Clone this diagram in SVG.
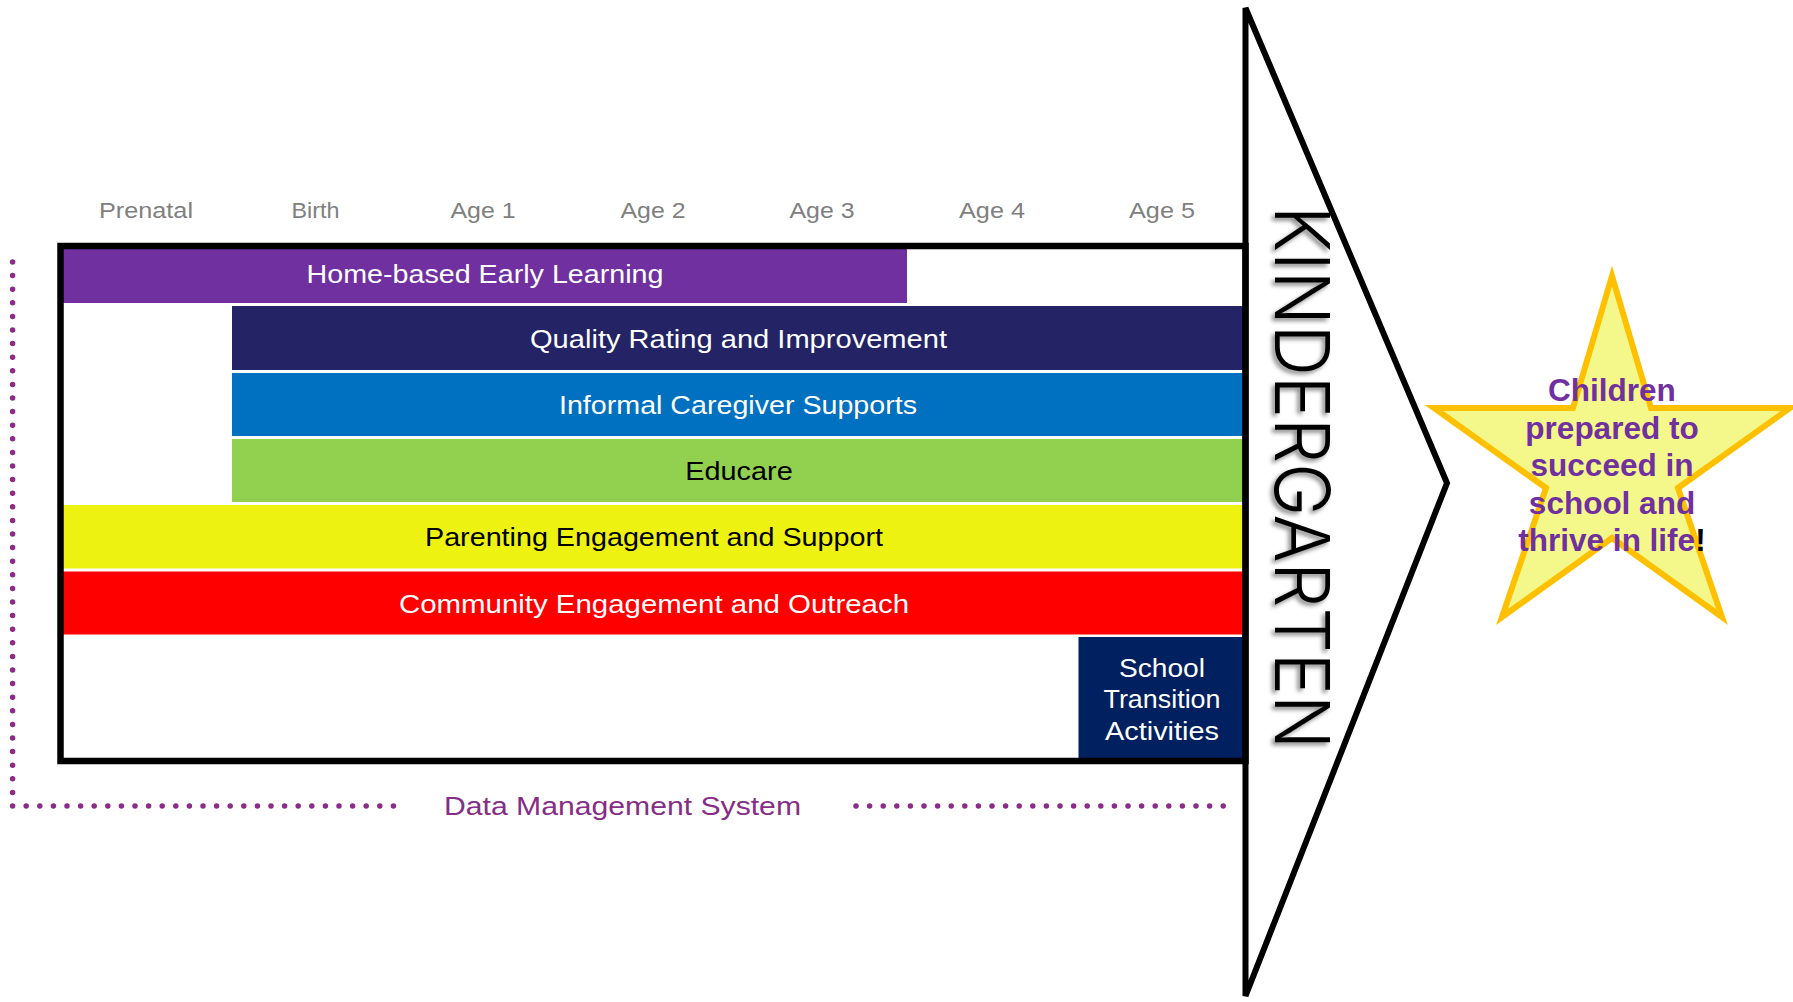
<svg xmlns="http://www.w3.org/2000/svg" width="1793" height="1002" viewBox="0 0 1793 1002">
  <defs>
    <style>
      .age { font-family: "Liberation Sans", Arial, sans-serif; font-size: 22.5px; fill: #808080; text-anchor: middle; }
      .bar { font-family: "Liberation Sans", Arial, sans-serif; font-size: 25.5px; text-anchor: middle; }
      .w { fill: #FFFFFF; }
      .k { fill: #000000; }
      .dots { fill: none; stroke: #8A2C88; stroke-width: 5.5; stroke-linecap: round; stroke-dasharray: 0 13.6; }
      .star-t { font-family: "Liberation Sans", Arial, sans-serif; font-weight: bold; font-size: 31.5px; fill: #7030A0; text-anchor: middle; }
    </style>
    <filter id="shadow" x="-20%" y="-5%" width="140%" height="110%">
      <feDropShadow dx="-3" dy="3" stdDeviation="2" flood-color="#000000" flood-opacity="0.45"/>
    </filter>
  </defs>
  <rect width="1793" height="1002" fill="#FFFFFF"/>

  <!-- age labels -->
  <g id="age-labels">
    <text class="age" x="146" y="217.5" textLength="94" lengthAdjust="spacingAndGlyphs">Prenatal</text>
    <text class="age" x="315.5" y="217.5" textLength="48" lengthAdjust="spacingAndGlyphs">Birth</text>
    <text class="age" x="483" y="217.5" textLength="65" lengthAdjust="spacingAndGlyphs">Age 1</text>
    <text class="age" x="653" y="217.5" textLength="65" lengthAdjust="spacingAndGlyphs">Age 2</text>
    <text class="age" x="822" y="217.5" textLength="65" lengthAdjust="spacingAndGlyphs">Age 3</text>
    <text class="age" x="992" y="217.5" textLength="66" lengthAdjust="spacingAndGlyphs">Age 4</text>
    <text class="age" x="1162" y="217.5" textLength="66" lengthAdjust="spacingAndGlyphs">Age 5</text>
  </g>

  <!-- data management system dotted frame -->
  <g id="data-management">
    <path class="dots" d="M12.6,262 L12.6,806 L395,806"/>
    <path class="dots" d="M856,806 L1225,806"/>
    <text x="622.5" y="815" font-family="'Liberation Sans', Arial, sans-serif" font-size="26.5" fill="#862D86" text-anchor="middle" textLength="357" lengthAdjust="spacingAndGlyphs">Data Management System</text>
  </g>

  <!-- bars -->
  <g id="home-based">
    <rect x="63" y="249" width="844" height="54" fill="#7030A0"/>
    <text class="bar w" x="485" y="283" textLength="357" lengthAdjust="spacingAndGlyphs">Home-based Early Learning</text>
  </g>
  <g id="quality-rating">
    <rect x="232" y="306" width="1011" height="64" fill="#232366"/>
    <text class="bar w" x="738.5" y="347.7" textLength="417" lengthAdjust="spacingAndGlyphs">Quality Rating and Improvement</text>
  </g>
  <g id="informal-caregiver">
    <rect x="232" y="373" width="1011" height="63" fill="#0070C0"/>
    <text class="bar w" x="738" y="413.5" textLength="358" lengthAdjust="spacingAndGlyphs">Informal Caregiver Supports</text>
  </g>
  <g id="educare">
    <rect x="232" y="439" width="1011" height="63" fill="#92D050"/>
    <text class="bar k" x="739" y="479.5" textLength="107.5" lengthAdjust="spacingAndGlyphs">Educare</text>
  </g>
  <g id="parenting">
    <rect x="63" y="505" width="1180" height="63.5" fill="#EDF211"/>
    <text class="bar k" x="654" y="545.7" textLength="458" lengthAdjust="spacingAndGlyphs">Parenting Engagement and Support</text>
  </g>
  <g id="community">
    <rect x="63" y="571.5" width="1180" height="63" fill="#FF0000"/>
    <text class="bar w" x="654" y="612.5" textLength="510" lengthAdjust="spacingAndGlyphs">Community Engagement and Outreach</text>
  </g>
  <g id="school-transition">
    <rect x="1078.5" y="637" width="164.5" height="122" fill="#002060"/>
    <text class="bar w" x="1162" y="676.7" font-size="24.5" textLength="86" lengthAdjust="spacingAndGlyphs">School</text>
    <text class="bar w" x="1162" y="708.3" font-size="24.5" textLength="117" lengthAdjust="spacingAndGlyphs">Transition</text>
    <text class="bar w" x="1162" y="740" font-size="24.5" textLength="114" lengthAdjust="spacingAndGlyphs">Activities</text>
  </g>

  <!-- timeline frame -->
  <g id="timeline-frame">
    <rect x="60.5" y="246" width="1185" height="515" fill="none" stroke="#000000" stroke-width="6.5"/>
  </g>

  <!-- kindergarten arrow -->
  <g id="kindergarten">
    <polygon points="1245.5,8 1447,483 1245.5,996" fill="none" stroke="#000000" stroke-width="6"/>
    <g filter="url(#shadow)">
      <text transform="translate(1275,206) rotate(90)" x="0" y="0" font-family="Inter, 'Liberation Sans', Arial, sans-serif" font-weight="300" font-size="76" fill="#000000" textLength="543" lengthAdjust="spacingAndGlyphs">KINDERGARTEN</text>
    </g>
  </g>

  <!-- star -->
  <g id="star">
    <polygon points="1612,276 1651,408 1790,408 1678,488 1722,617 1612,538 1502,617 1546,488 1434,408 1573,408" fill="#F4F78A" stroke="#FFC000" stroke-width="6" stroke-linejoin="miter"/>
    <text class="star-t" x="1612" y="401">Children</text>
    <text class="star-t" x="1612" y="438.5">prepared to</text>
    <text class="star-t" x="1612" y="476">succeed in</text>
    <text class="star-t" x="1612" y="513.5">school and</text>
    <text class="star-t" x="1612" y="551">thrive in life<tspan fill="#000000">!</tspan></text>
  </g>
</svg>
